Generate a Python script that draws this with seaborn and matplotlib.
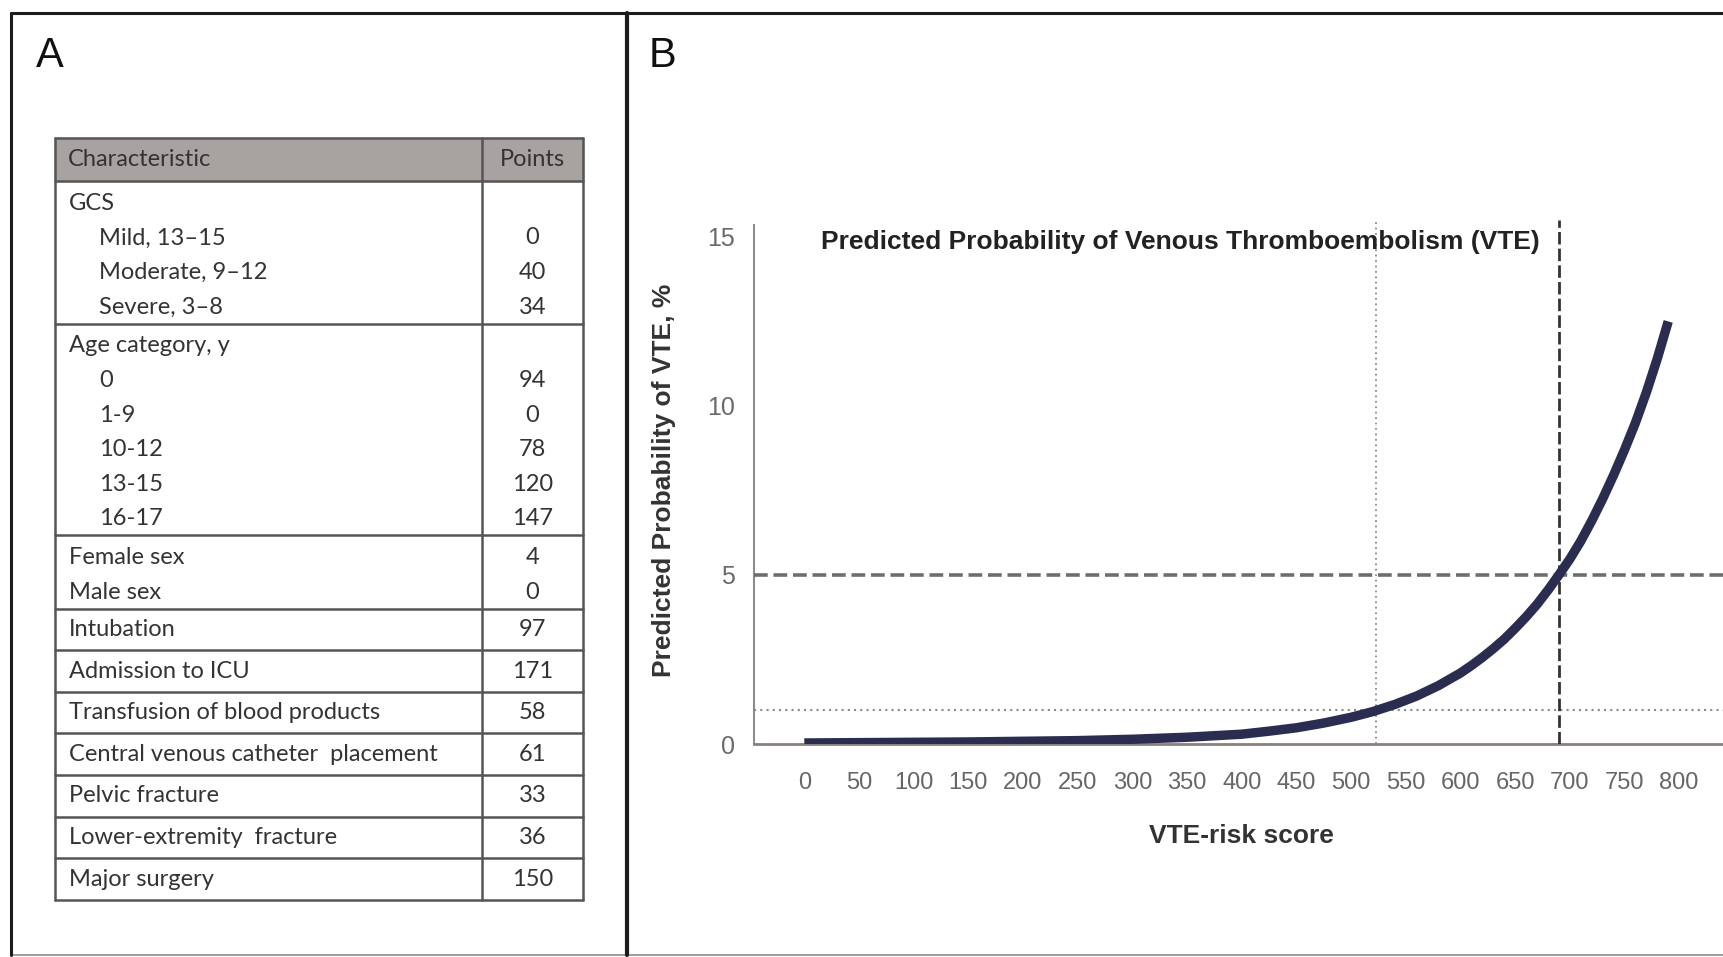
import pandas as pd
import seaborn as sns
import matplotlib.pyplot as plt
from matplotlib import font_manager

# panel A: point table
characteristics = [
    "GCS", "Mild, 13–15", "Moderate, 9–12", "Severe, 3–8",
    "Age category, y", "0", "1-9", "10-12", "13-15", "16-17",
    "Female sex", "Male sex",
    "Intubation",
    "Admission to ICU",
    "Transfusion of blood products",
    "Central venous catheter  placement",
    "Pelvic fracture",
    "Lower-extremity  fracture",
    "Major surgery",
]
points = ["", "0", "40", "34", "", "94", "0", "78", "120", "147",
          "4", "0", "97", "171", "58", "61", "33", "36", "150"]
sub_item = [False, True, True, True, False, True, True, True, True, True,
            False, False, False, False, False, False, False, False, False]
block_sizes = [4, 6, 2, 1, 1, 1, 1, 1, 1, 1]

# panel B: predicted probability curve
score = [0, 50, 100, 150, 200, 250, 300, 350, 400, 425, 450, 475, 500, 520,
         540, 560, 580, 600, 610, 620, 630, 640, 650, 660, 670, 680, 690,
         700, 710, 720, 730, 740, 750, 760, 770, 780, 790]
prob = [0.03, 0.04, 0.05, 0.06, 0.08, 0.10, 0.14, 0.20, 0.29, 0.38, 0.48,
        0.62, 0.79, 0.96, 1.17, 1.42, 1.73, 2.10, 2.32, 2.56, 2.82, 3.10,
        3.42, 3.76, 4.13, 4.55, 5.0, 5.47, 6.0, 6.6, 7.25, 7.95, 8.7, 9.5,
        10.4, 11.4, 12.5]
ref_prob_low, ref_prob_high = 1, 5
ref_score_low, ref_score_high = 523, 690
x_ticks = list(range(0, 801, 50))
y_ticks = [0, 5, 10, 15]


def has_font(name):
    try:
        font_manager.findfont(font_manager.FontProperties(family=name),
                              fallback_to_default=False)
        return True
    except ValueError:
        return False


sns.set_style("white")
plt.rcParams["font.family"] = ["Liberation Sans", "DejaVu Sans"]
narrow = "Liberation Sans Narrow" if has_font("Liberation Sans Narrow") else None
table_font = ["Lato", "DejaVu Sans"]
table_size = 17

W, H = 1724, 957
fig = plt.figure(figsize=(W / 100, H / 100), dpi=100)

# pixel-space overlay for frame, labels and table
bg = fig.add_axes([0, 0, 1, 1])
bg.set_xlim(0, W)
bg.set_ylim(H, 0)
bg.axis("off")

frame = "#1c1c1c"
bg.plot([11, W], [13, 13], color=frame, lw=2.2)
bg.plot([11, 11], [13, 955], color=frame, lw=2.2)
bg.plot([11, W], [955, 955], color=frame, lw=1.2, alpha=0.5)
bg.plot([627, 627], [13, 955], color=frame, lw=3)
bg.text(36, 56, "A", fontsize=30, va="center", ha="left", color="#111")
bg.text(649, 56, "B", fontsize=30, va="center", ha="left", color="#111")

# table
tx0, tx_div, tx1 = 55, 482, 583
ty0, ty_head = 137.5, 181.4
line_h, single_h, pad = 34.6, 41.6, 4
grid = "#555555"
txt_col = "#333333"
bg.fill_between([tx0, tx1], ty0, ty_head, color="#a8a2a0", zorder=1)
bg.text(68, (ty0 + ty_head) / 2, "Characteristic", fontsize=table_size,
        family=table_font, va="center", color="#333333", zorder=3)
bg.text((tx_div + tx1) / 2, (ty0 + ty_head) / 2, "Points", fontsize=table_size,
        family=table_font, va="center", ha="center", color="#333333", zorder=3)

y = ty_head
seps = [ty0, ty_head]
i = 0
for n in block_sizes:
    h = single_h if n == 1 else n * line_h + pad
    first = y + (h / 2 if n == 1 else 22)
    for k in range(n):
        yc = first + k * line_h
        xt = 99 if sub_item[i] else 69
        bg.text(xt, yc, characteristics[i], fontsize=table_size,
                family=table_font, va="center", ha="left", color=txt_col,
                zorder=3)
        bg.text((tx_div + tx1) / 2, yc, points[i], fontsize=table_size,
                family=table_font, va="center", ha="center", color=txt_col,
                zorder=3)
        i += 1
    y += h
    seps.append(y)

for s in seps:
    bg.plot([tx0, tx1], [s, s], color=grid, lw=1.8, zorder=2)
for xv in [tx0, tx_div, tx1]:
    bg.plot([xv, xv], [ty0, seps[-1]], color=grid, lw=1.8, zorder=2)

# panel B chart
ax_l, ax_r, ax_t, ax_b = 754, 1724, 220, 744
ax = fig.add_axes([ax_l / W, (H - ax_b) / H, (ax_r - ax_l) / W, (ax_b - ax_t) / H])
ax.patch.set_alpha(0)

curve = pd.DataFrame({"score": score, "prob": prob})
sns.lineplot(data=curve, x="score", y="prob", ax=ax, color="#2b2d50",
             linewidth=6.8, solid_capstyle="butt", solid_joinstyle="round",
             zorder=5)

ax.axhline(ref_prob_high, color="#6e6e6e", lw=2.6, ls=(0, (3.8, 1.6)), zorder=3)
ax.axhline(ref_prob_low, color="#8a8a8a", lw=1.5, ls=(0, (1, 2)), zorder=3)
ax.axvline(ref_score_low, color="#8a8a8a", lw=1.3, ls=(0, (1, 2)), zorder=3)
ax.axvline(ref_score_high, color="#333333", lw=2.0, ls=(0, (4.5, 1.5)), zorder=4)

ax.set_xlim(-46, 841)
ax.set_ylim(0, 15.5)
ax.set_xticks(x_ticks)
ax.set_yticks(y_ticks)
ax.tick_params(axis="x", length=12, width=1.2, color="#999999",
               labelcolor="#666666", pad=8)
ax.tick_params(axis="y", length=11, width=1.2, color="#999999",
               labelcolor="#6a6a6a", pad=3, labelsize=18)
for lab in ax.get_xticklabels():
    if narrow:
        lab.set_family(narrow)
        lab.set_fontsize(20)
    else:
        lab.set_fontsize(17)

for side in ["top", "right"]:
    ax.spines[side].set_visible(False)
ax.spines["left"].set_color("#8c8c8c")
ax.spines["left"].set_linewidth(1.5)
ax.spines["left"].set_bounds(0, 15.35)
ax.spines["bottom"].set_color("#8a807c")
ax.spines["bottom"].set_linewidth(2)

ax.text(15, 14.85, "Predicted Probability of Venous Thromboembolism (VTE)",
        fontsize=19, fontweight="bold", color="#222222", va="center", ha="left")
ax.set_xlabel("VTE-risk score", fontsize=19, fontweight="bold", color="#333333")
ax.set_ylabel("Predicted Probability of VTE, %", fontsize=19,
              fontweight="bold", color="#333333")
ax.xaxis.label.set_va("center")
ax.yaxis.label.set_va("center")
ax.xaxis.set_label_coords((1241 - ax_l) / (ax_r - ax_l), -(836 - ax_b) / (ax_b - ax_t))
ax.yaxis.set_label_coords((664 - ax_l) / (ax_r - ax_l), (ax_b - 480) / (ax_b - ax_t))

fig.savefig("out.png", dpi=100)
plt.close(fig)
